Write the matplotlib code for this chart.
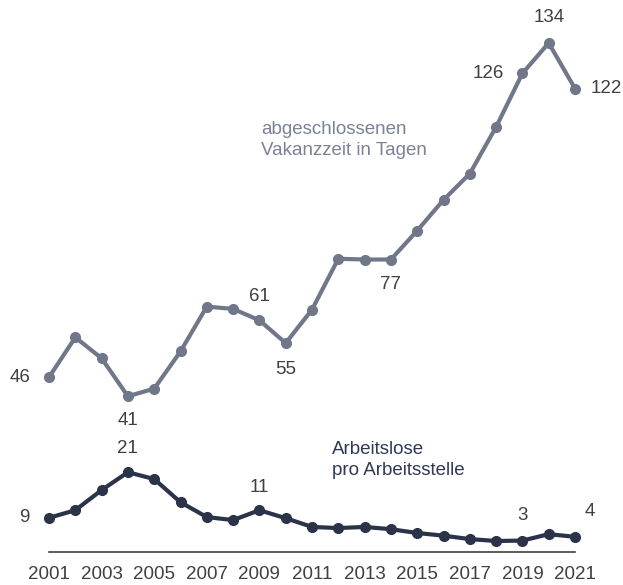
import matplotlib.pyplot as plt

plt.rcParams["font.family"] = ["Liberation Sans", "DejaVu Sans"]

# Data
years = list(range(2001, 2022))
vakanzzeit = [46, 56.5, 51, 41, 43, 52.8, 64.6, 64, 61, 55, 63.8,
              77.2, 77, 77, 84.6, 92.7, 99.6, 111.9, 126, 134, 122]
arbeitslose = [9, 11, 16.3, 21, 19.2, 13.1, 9.2, 8.4, 11, 8.9, 6.6,
               6.3, 6.6, 6, 5, 4.3, 3.4, 2.9, 3, 4.7, 4]
tick_years = list(range(2001, 2022, 2))

# labelled points: (year, text, dx px, dy px)
labels_vak = [(2001, "46", -29, 0), (2004, "41", 0, -24), (2009, "61", 0, 24),
              (2010, "55", 0, -26), (2014, "77", 0, -25), (2019, "126", -34, 0),
              (2020, "134", 0, 25), (2021, "122", 31, 0)]
labels_arb = [(2001, "9", -25, 0), (2004, "21", 0, 24), (2009, "11", 0, 23),
              (2019, "3", 0, 25), (2021, "4", 15, 25)]

col_vak = "#6f7789"
col_arb = "#2b3349"
col_txt = "#404040"

fig = plt.figure(figsize=(6.23, 5.85), dpi=100)
ax = fig.add_axes([49 / 623, 33 / 585, 526 / 623, 509 / 585])

ax.plot(years, vakanzzeit, color=col_vak, lw=3, marker="o", ms=7, clip_on=False)
ax.plot(years, arbeitslose, color=col_arb, lw=3, marker="o", ms=7, clip_on=False)

for series, labs in [(vakanzzeit, labels_vak), (arbeitslose, labels_arb)]:
    for yr, txt, dx, dy in labs:
        ax.annotate(txt, (yr, series[years.index(yr)]), xytext=(dx, dy),
                    textcoords="offset pixels", ha="center", va="center",
                    fontsize=13.5, color=col_txt)

ax.set_xlim(2001, 2021)
ax.set_ylim(0, 134)
ax.set_yticks([])
ax.set_xticks(tick_years)
ax.tick_params(axis="x", length=0, pad=10, labelsize=13.5, labelcolor=col_txt)
for s in ["top", "right", "left"]:
    ax.spines[s].set_visible(False)
ax.spines["bottom"].set_color("#404040")
ax.spines["bottom"].set_linewidth(1.2)

fig.text(261 / 623, 1 - 140 / 585, "abgeschlossenen\nVakanzzeit in Tagen",
         ha="left", va="center", fontsize=13.5, color="#7a8296", linespacing=1.3)
fig.text(332 / 623, 1 - 460 / 585, "Arbeitslose\npro Arbeitsstelle",
         ha="left", va="center", fontsize=13.5, color="#2f3954", linespacing=1.3)

fig.savefig("out.png", dpi=100)
